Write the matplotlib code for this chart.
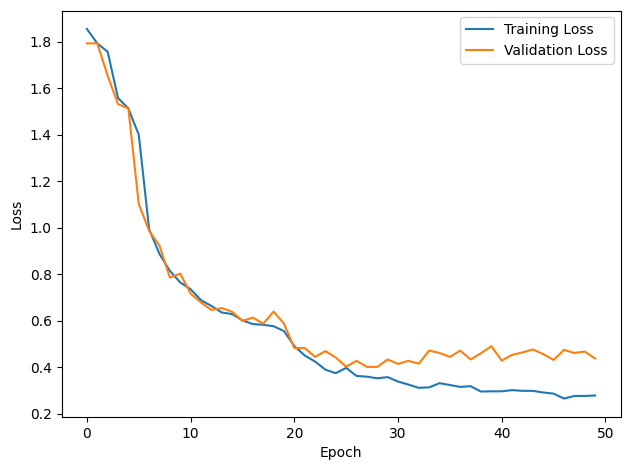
import matplotlib
matplotlib.use("Agg")
import matplotlib.pyplot as plt

epochs = list(range(50))
train_loss = [1.855, 1.793, 1.757, 1.558, 1.513, 1.40, 0.994, 0.887, 0.815, 0.765,
              0.736, 0.689, 0.664, 0.636, 0.629, 0.602, 0.586, 0.583, 0.577, 0.556,
              0.492, 0.451, 0.425, 0.390, 0.375, 0.398, 0.363, 0.360, 0.353, 0.358,
              0.339, 0.326, 0.312, 0.314, 0.332, 0.324, 0.316, 0.319, 0.296, 0.297,
              0.297, 0.302, 0.299, 0.299, 0.292, 0.287, 0.266, 0.277, 0.277, 0.279]
val_loss = [1.793, 1.793, 1.654, 1.532, 1.513, 1.102, 0.987, 0.923, 0.786, 0.803,
            0.717, 0.679, 0.647, 0.655, 0.639, 0.600, 0.614, 0.588, 0.640, 0.588,
            0.483, 0.483, 0.445, 0.470, 0.442, 0.403, 0.428, 0.402, 0.402, 0.434,
            0.415, 0.428, 0.416, 0.472, 0.462, 0.445, 0.472, 0.434, 0.461, 0.491,
            0.429, 0.454, 0.464, 0.477, 0.457, 0.432, 0.475, 0.462, 0.468, 0.438]

fig, ax = plt.subplots(figsize=(6.3, 4.7), dpi=100)
fig.subplots_adjust(left=61.5 / 630, right=620.5 / 630,
                    top=1 - 10.5 / 470, bottom=1 - 417 / 470)
ax.plot(epochs, train_loss, label="Training Loss")
ax.plot(epochs, val_loss, label="Validation Loss")
ax.set_xlabel("Epoch")
ax.set_ylabel("Loss")
ax.legend(loc="upper right")
fig.savefig("out.png")
